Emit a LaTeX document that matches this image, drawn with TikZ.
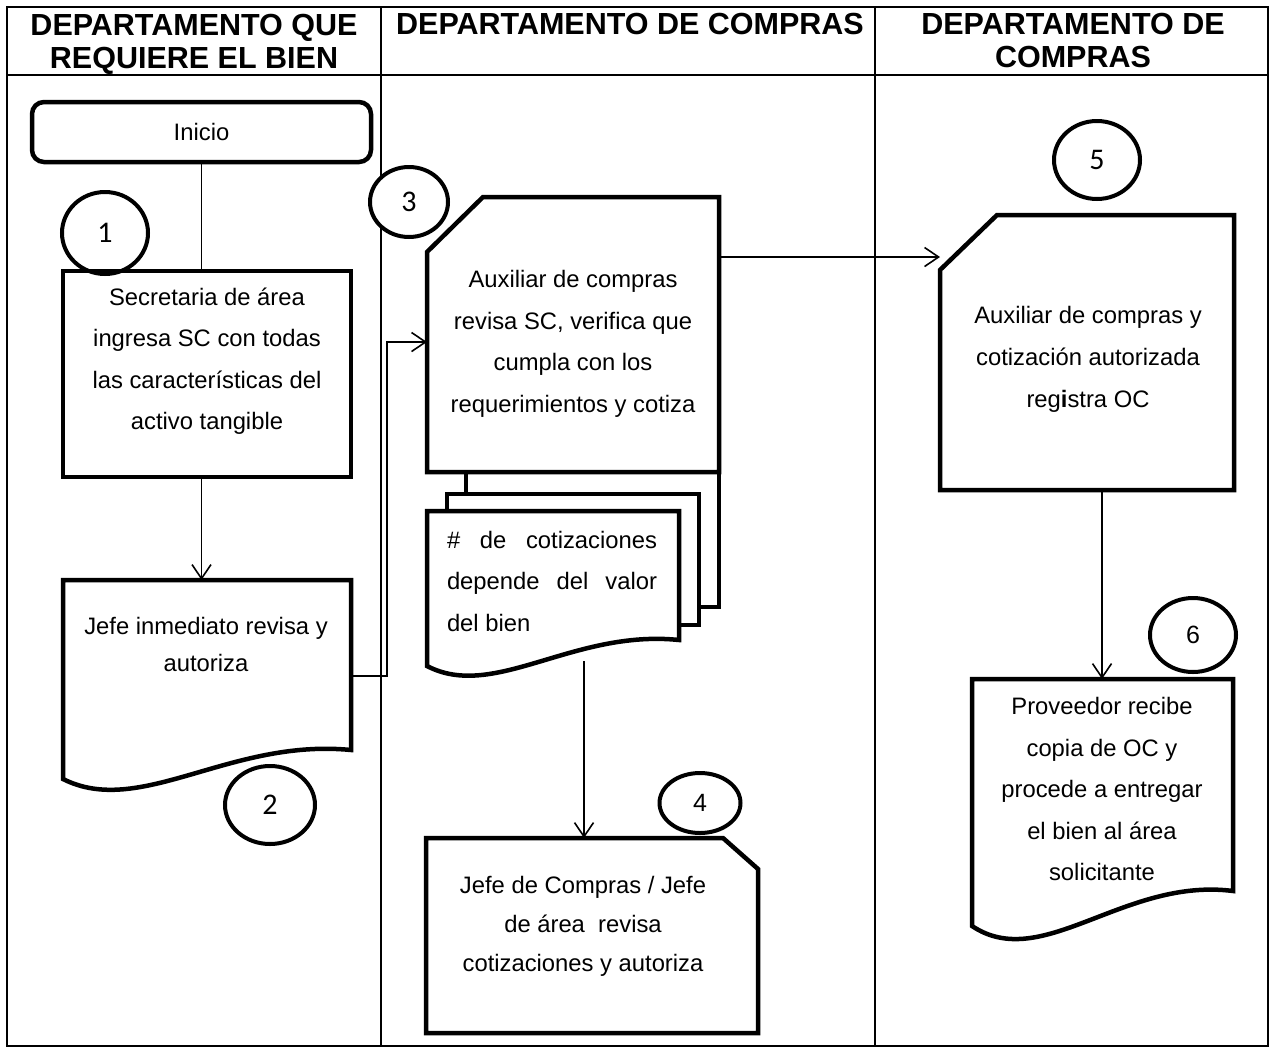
\documentclass[tikz,border=0pt]{standalone}
\usepackage{fontspec}
\setmainfont{Liberation Sans}
\newfontfamily\calfont{Carlito}
\usetikzlibrary{arrows.meta,shapes.geometric,calc}

\begin{document}
\begin{tikzpicture}[x=1pt,y=-1pt,
  tbl/.style={line width=1.8pt},
  heading/.style={font=\fontsize{30.5}{33}\selectfont\bfseries, align=center, inner sep=0pt},
  body/.style={font=\fontsize{23.8}{41.5}\selectfont, align=center, inner sep=0pt},
  frameline/.style={draw, line width=4.5pt, line join=miter},
  anchorbox/.style={inner sep=0pt, outer sep=0pt},
  num/.style={ellipse, draw, line width=4pt, fill=white, inner sep=0pt,
              font=\fontsize{30}{32}\selectfont\calfont},
  numarial/.style={num, font=\fontsize{25}{27}\selectfont},
  conn/.style={line width=1.6pt},
  flow/.style={conn, -{Straight Barb[length=14pt,width=19pt,line width=1.6pt]}}
]
\useasboundingbox (0,0) rectangle (1275,1053);

% table grid
\draw[tbl] (7,7) rectangle (1268,1046);
\draw[tbl] (7,75) -- (1268,75);
\draw[tbl] (381,7) -- (381,1046);
\draw[tbl] (875,7) -- (875,1046);

% column headings
\node[heading] (h1) at (194,44.5) {DEPARTAMENTO QUE\\REQUIERE EL BIEN};
\node[heading] (h2) at (630,24) {DEPARTAMENTO DE COMPRAS};
\node[heading] (h3) at (1073,40) {DEPARTAMENTO DE\\COMPRAS};

% step numbers
\node[num, minimum width=86pt, minimum height=82pt] (n1) at (105,233) {1};
\node[num, minimum width=90pt, minimum height=78pt] (n2) at (270,805) {2};
\node[num, minimum width=78pt, minimum height=70pt] (n3) at (409,202) {3};
\node[numarial, minimum width=81pt, minimum height=60pt] (n4) at (700,803) {4};
\node[num, minimum width=86pt, minimum height=78pt] (n5) at (1097,160) {5};
\node[numarial, minimum width=86pt, minimum height=74pt] (n6) at (1193,635) {6};

% start
\node[frameline, rounded corners=12pt, minimum width=339pt, minimum height=60pt, body]
  (ini) at (201.5,132) {Inicio};

% step 1: process box
\node[frameline, minimum width=288pt, minimum height=206pt] (b1) at (207,374) {};
\node[body] (t1) at (207,361)
  {Secretaria de área\\ingresa SC con todas\\las características del\\activo tangible};

% step 2: document
\node[anchorbox, minimum width=288pt, minimum height=170pt] (b2) at (207,665) {};
\draw[frameline] (b2.north west) -- (b2.north east) -- (b2.south east)
  .. controls (230,738) and (140,818) .. (63,779) -- cycle;
\node[body, font=\fontsize{23.8}{37}\selectfont] (t2) at (206,644)
  {Jefe inmediato revisa y\\autoriza};

% stack of quotations
\draw[frameline, fill=white] (466,472) rectangle (719,607);
\draw[frameline, fill=white] (447,494) rectangle (699,625);
\node[anchorbox, minimum width=252pt, minimum height=129pt] (ft) at (553,575.5) {};
\draw[frameline, fill=white] (ft.north west) -- (ft.north east) -- (ft.south east)
  .. controls (573,629) and (494,701) .. (427,666) -- cycle;
\node[body, align=left] (tf) at (552,581)
  {\makebox[210pt][s]{\# de cotizaciones}\\\makebox[210pt][s]{depende del valor}\\del bien};
\coordinate (fb) at (584,661);

% step 3: card with cut corner
\node[anchorbox, minimum width=292pt, minimum height=275pt] (b3) at (573,334.5) {};
\draw[frameline, fill=white] ($(b3.north west)+(0,55)$) -- ($(b3.north west)+(56,0)$)
  -- (b3.north east) -- (b3.south east) -- (b3.south west) -- cycle;
\node[body] (t3) at (573,344)
  {Auxiliar de compras\\revisa SC, verifica que\\cumpla con los\\requerimientos y cotiza};

% step 4: card with cut corner on the right
\node[anchorbox, minimum width=332pt, minimum height=195pt] (b4) at (592,935.5) {};
\draw[frameline] (b4.north west) -- ($(b4.north east)+(-35,0)$) -- ($(b4.north east)+(0,31)$)
  -- (b4.south east) -- (b4.south west) -- cycle;
\node[body, font=\fontsize{23.8}{39}\selectfont] (t4) at (583,926)
  {Jefe de Compras / Jefe\\de área~ revisa\\cotizaciones y autoriza};

% step 5: card with cut corner
\node[anchorbox, minimum width=294pt, minimum height=275pt] (b5) at (1087,352.5) {};
\draw[frameline] ($(b5.north west)+(0,55)$) -- ($(b5.north west)+(57,0)$)
  -- (b5.north east) -- (b5.south east) -- (b5.south west) -- cycle;
\node[body, font=\fontsize{23.8}{42}\selectfont] (t5) at (1088,359)
  {Auxiliar de compras y\\cotización autorizada\\reg\textbf{i}stra OC};

% step 6: document
\node[anchorbox, minimum width=261pt, minimum height=212pt] (b6) at (1102.5,785) {};
\draw[frameline] (b6.north west) -- (b6.north east) -- (b6.south east)
  .. controls (1124,877) and (1042,973) .. (972,926) -- cycle;
\node[body] (t6) at (1102,789)
  {Proveedor recibe\\copia de OC y\\procede a entregar\\el bien al área\\solicitante};

% connectors
\draw[conn] (ini.south) -- (ini.south |- b1.north);
\draw[flow] (ini.south |- b1.south) -- (ini.south |- b2.north);
\coordinate (j2) at (387,676);
\coordinate (j3) at (387,342);
\draw[flow] (b2.east |- j2) -- (j2) -- (j3) -- (b3.west |- j3);
\coordinate (r35) at (0,257);
\draw[flow] (b3.east |- r35) -- (b5.west |- r35);
\draw[flow] (fb) -- (fb |- b4.north);
\coordinate (c56) at (1102,0);
\draw[flow] (b5.south -| c56) -- (b6.north -| c56);
\end{tikzpicture}
\end{document}
